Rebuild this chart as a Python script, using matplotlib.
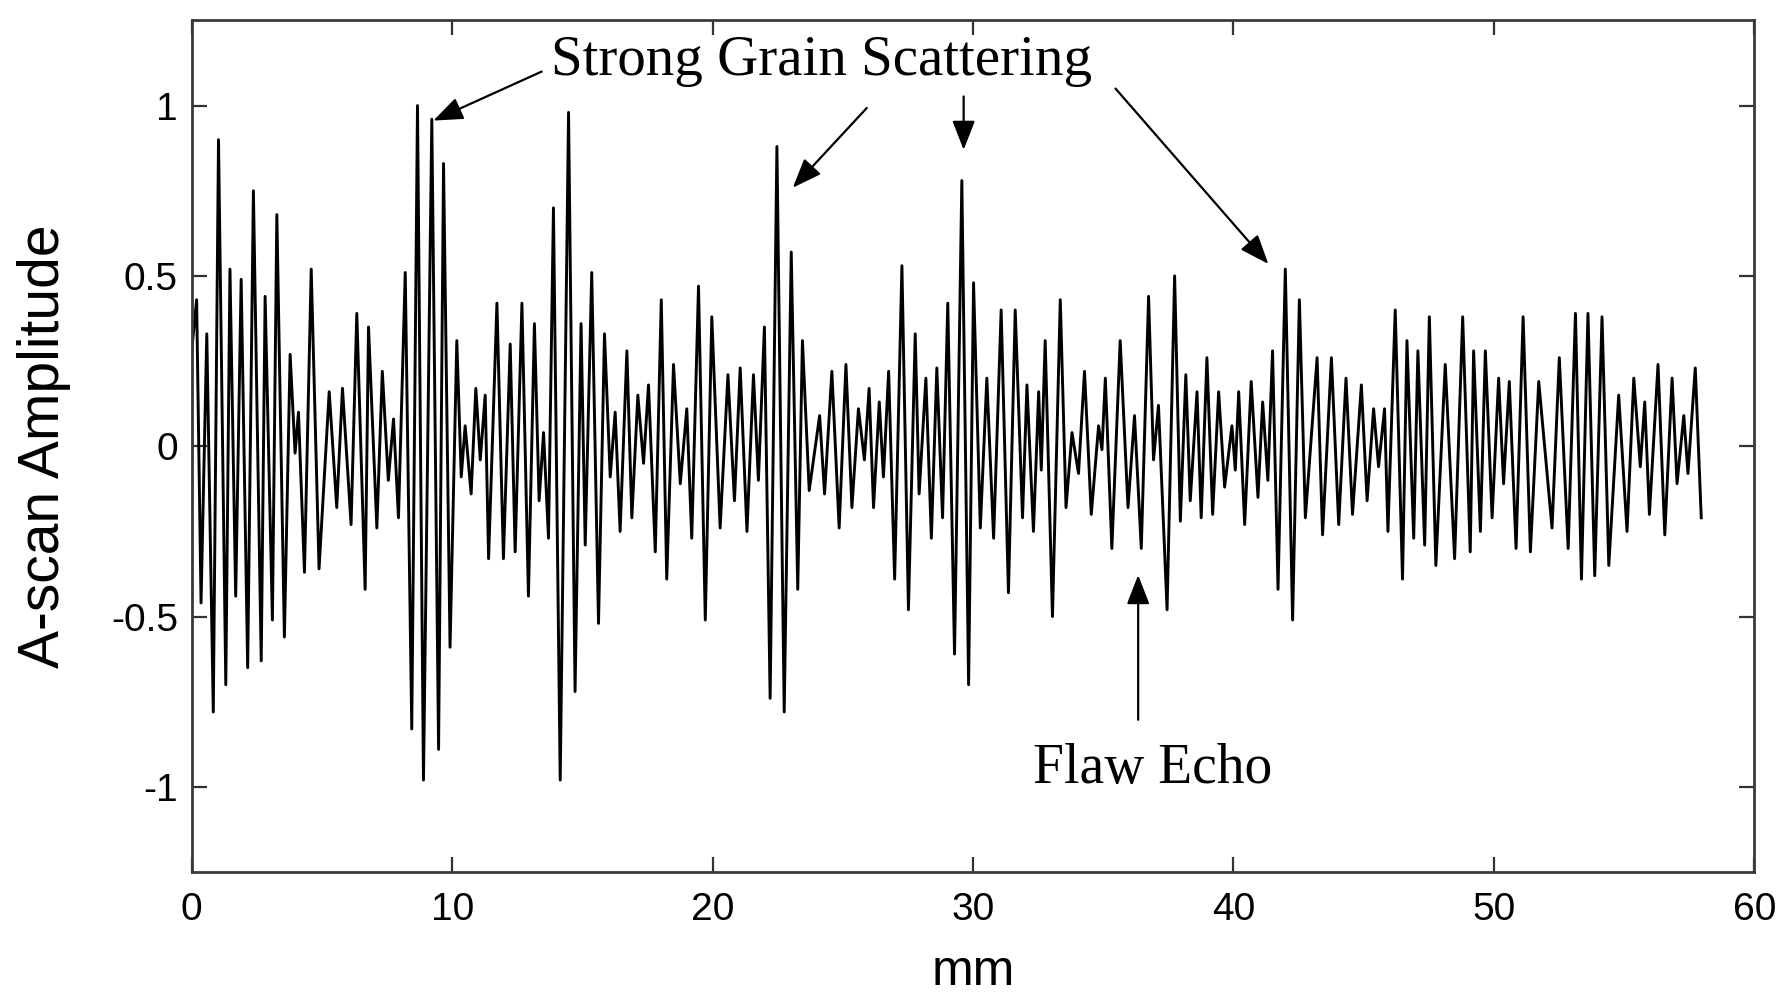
import numpy as np
import matplotlib
matplotlib.use("Agg")
import matplotlib.pyplot as plt


# ---------------------------------------------------------
# A-scan trace (turning points of the trace)
# ---------------------------------------------------------

depth_0_10 = [0.00, 0.19, 0.36, 0.58, 0.83, 1.03, 1.31, 1.47, 1.69, 1.90,
              2.15, 2.37, 2.67, 2.82, 3.10, 3.27, 3.56, 3.78, 3.97, 4.10,
              4.33, 4.59, 4.89, 5.28, 5.57, 5.79, 6.12, 6.34, 6.66, 6.79,
              7.11, 7.32, 7.55, 7.75, 7.94, 8.20, 8.45, 8.67, 8.90, 9.22,
              9.48, 9.67, 9.92]
amp_0_10 = [0.28, 0.43, -0.46, 0.33, -0.78, 0.90, -0.70, 0.52, -0.44, 0.49,
            -0.65, 0.75, -0.63, 0.44, -0.51, 0.68, -0.56, 0.27, -0.02, 0.10,
            -0.37, 0.52, -0.36, 0.16, -0.18, 0.17, -0.23, 0.39, -0.42, 0.35,
            -0.24, 0.22, -0.10, 0.08, -0.21, 0.51, -0.83, 1.00, -0.98, 0.96,
            -0.89, 0.83, -0.59]

depth_10_20 = [10.18, 10.35, 10.50, 10.73, 10.91, 11.08, 11.27, 11.40, 11.72, 11.97,
               12.23, 12.42, 12.68, 12.93, 13.16, 13.34, 13.51, 13.70, 13.89, 14.15,
               14.47, 14.72, 14.95, 15.11, 15.36, 15.62, 15.85, 16.07, 16.26, 16.45,
               16.71, 16.90, 17.13, 17.35, 17.54, 17.80, 18.03, 18.24, 18.50, 18.76,
               19.01, 19.20, 19.46, 19.72, 19.97]
amp_10_20 = [0.31, -0.09, 0.06, -0.14, 0.17, -0.04, 0.15, -0.33, 0.42, -0.33,
             0.30, -0.31, 0.42, -0.44, 0.36, -0.16, 0.04, -0.27, 0.70, -0.98,
             0.98, -0.72, 0.36, -0.29, 0.51, -0.52, 0.33, -0.09, 0.10, -0.25,
             0.28, -0.21, 0.15, -0.05, 0.18, -0.31, 0.43, -0.39, 0.24, -0.11,
             0.11, -0.27, 0.47, -0.51, 0.38]

depth_20_30 = [20.29, 20.59, 20.84, 21.06, 21.32, 21.57, 21.76, 21.99, 22.21, 22.47,
               22.75, 23.02, 23.27, 23.45, 23.71, 24.11, 24.30, 24.58, 24.86, 25.12,
               25.35, 25.60, 25.83, 26.01, 26.18, 26.40, 26.56, 26.76, 26.99, 27.27,
               27.52, 27.78, 27.93, 28.19, 28.40, 28.61, 28.83, 29.03, 29.29, 29.57,
               29.83, 30.02]
amp_20_30 = [-0.24, 0.21, -0.16, 0.23, -0.25, 0.21, -0.10, 0.35, -0.74, 0.88,
             -0.78, 0.57, -0.42, 0.31, -0.13, 0.09, -0.14, 0.22, -0.24, 0.24,
             -0.18, 0.11, -0.04, 0.17, -0.18, 0.13, -0.09, 0.22, -0.39, 0.53,
             -0.48, 0.33, -0.14, 0.20, -0.27, 0.23, -0.21, 0.42, -0.61, 0.78,
             -0.70, 0.48]

depth_30_40 = [30.28, 30.53, 30.79, 31.08, 31.36, 31.62, 31.90, 32.07, 32.32, 32.52,
               32.62, 32.77, 33.05, 33.35, 33.57, 33.80, 34.05, 34.28, 34.54, 34.82,
               34.95, 35.08, 35.33, 35.65, 35.95, 36.20, 36.46, 36.74, 36.93, 37.12,
               37.45, 37.74, 37.96, 38.17, 38.34, 38.60, 38.76, 38.98, 39.20, 39.43,
               39.66, 39.94]
amp_30_40 = [-0.24, 0.20, -0.27, 0.40, -0.43, 0.40, -0.21, 0.18, -0.25, 0.16,
             -0.07, 0.31, -0.50, 0.43, -0.18, 0.04, -0.08, 0.22, -0.20, 0.06,
             -0.01, 0.20, -0.30, 0.31, -0.18, 0.09, -0.30, 0.44, -0.04, 0.12,
             -0.48, 0.50, -0.22, 0.21, -0.16, 0.16, -0.21, 0.26, -0.20, 0.16,
             -0.12, 0.06]

depth_40_50 = [40.07, 40.20, 40.43, 40.68, 40.94, 41.12, 41.32, 41.50, 41.71, 41.99,
               42.27, 42.53, 42.76, 43.21, 43.42, 43.76, 44.04, 44.32, 44.57, 44.91,
               45.13, 45.38, 45.57, 45.80, 45.93, 46.21, 46.49, 46.66, 46.92, 47.08,
               47.34, 47.52, 47.77, 48.13, 48.49, 48.80, 49.09, 49.22, 49.48, 49.67,
               49.93]
amp_40_50 = [-0.07, 0.16, -0.23, 0.19, -0.15, 0.13, -0.10, 0.28, -0.42, 0.52,
             -0.51, 0.43, -0.21, 0.26, -0.26, 0.26, -0.23, 0.20, -0.20, 0.18,
             -0.16, 0.11, -0.06, 0.11, -0.25, 0.40, -0.39, 0.31, -0.27, 0.28,
             -0.29, 0.38, -0.35, 0.24, -0.33, 0.38, -0.31, 0.28, -0.25, 0.28,
             -0.21]

depth_50_58 = [50.18, 50.37, 50.59, 50.85, 51.12, 51.40, 51.72, 52.23, 52.51, 52.85,
               53.13, 53.36, 53.61, 53.87, 54.15, 54.41, 54.79, 55.11, 55.37, 55.62,
               55.79, 55.97, 56.30, 56.56, 56.84, 57.03, 57.29, 57.45, 57.73, 57.96]
amp_50_58 = [0.20, -0.11, 0.19, -0.30, 0.38, -0.31, 0.19, -0.24, 0.26, -0.30,
             0.39, -0.39, 0.39, -0.38, 0.38, -0.35, 0.15, -0.25, 0.20, -0.06,
             0.13, -0.20, 0.24, -0.26, 0.20, -0.11, 0.09, -0.08, 0.23, -0.21]

x_ticks = [0, 10, 20, 30, 40, 50, 60]
y_ticks = [-1, -0.5, 0, 0.5, 1]
y_tick_labels = ["-1", "-0.5", "0", "0.5", "1"]

# (label, text position, arrow tip) in data units
grain_label = "Strong Grain Scattering"
grain_label_xy = (24.2, 1.09)
grain_arrows = [((13.44, 1.10), (9.28, 0.956)),
                ((25.92, 0.993), (23.08, 0.759)),
                ((29.64, 1.027), (29.64, 0.870)),
                ((35.47, 1.05), (41.34, 0.535))]

flaw_label = "Flaw Echo"
flaw_label_xy = (36.9, -0.99)
flaw_arrow = ((36.34, -0.803), (36.34, -0.378))


# ---------------------------------------------------------
# plot
# ---------------------------------------------------------

depth = np.concatenate([depth_0_10, depth_10_20, depth_20_30,
                        depth_30_40, depth_40_50, depth_50_58])
amp = np.concatenate([amp_0_10, amp_10_20, amp_20_30,
                      amp_30_40, amp_40_50, amp_50_58])

plt.rcParams["font.family"] = ["Liberation Sans", "DejaVu Sans"]

fig = plt.figure(figsize=(17.88, 10.07), dpi=100)
ax = fig.add_axes([0.1072, 0.134, 0.874, 0.8457])

ax.plot(depth, amp, color="black", lw=2.1)

ax.set_xlim(0, 60)
ax.set_ylim(-1.25, 1.25)
ax.set_xticks(x_ticks)
ax.set_yticks(y_ticks)
ax.set_yticklabels(y_tick_labels)

ax.tick_params(direction="in", length=11, width=1.6, labelsize=28,
               top=True, right=True, color="#333333")
ax.tick_params(axis="x", pad=14)
ax.tick_params(axis="y", pad=10)

for spine in ax.spines.values():
    spine.set_linewidth(2)
    spine.set_color("#3a3a3a")

ax.set_xlabel("mm", fontsize=36)
ax.xaxis.set_label_coords(0.5, -0.09)
ax.set_ylabel("A-scan Amplitude", fontsize=41)
ax.yaxis.set_label_coords(-0.077, 0.5)

serif = ["Liberation Serif", "DejaVu Serif"]
ax.text(*grain_label_xy, grain_label, fontsize=41, family=serif,
        ha="center", va="baseline")
ax.text(*flaw_label_xy, flaw_label, fontsize=40, family=serif,
        ha="center", va="baseline")

arrow_style = dict(arrowstyle="-|>,head_length=0.9,head_width=0.35",
                   color="black", lw=1.6, mutation_scale=20,
                   shrinkA=0, shrinkB=0)
for tail, tip in grain_arrows + [flaw_arrow]:
    ax.annotate("", xy=tip, xytext=tail, arrowprops=arrow_style)

fig.savefig("out.png", dpi=100)
